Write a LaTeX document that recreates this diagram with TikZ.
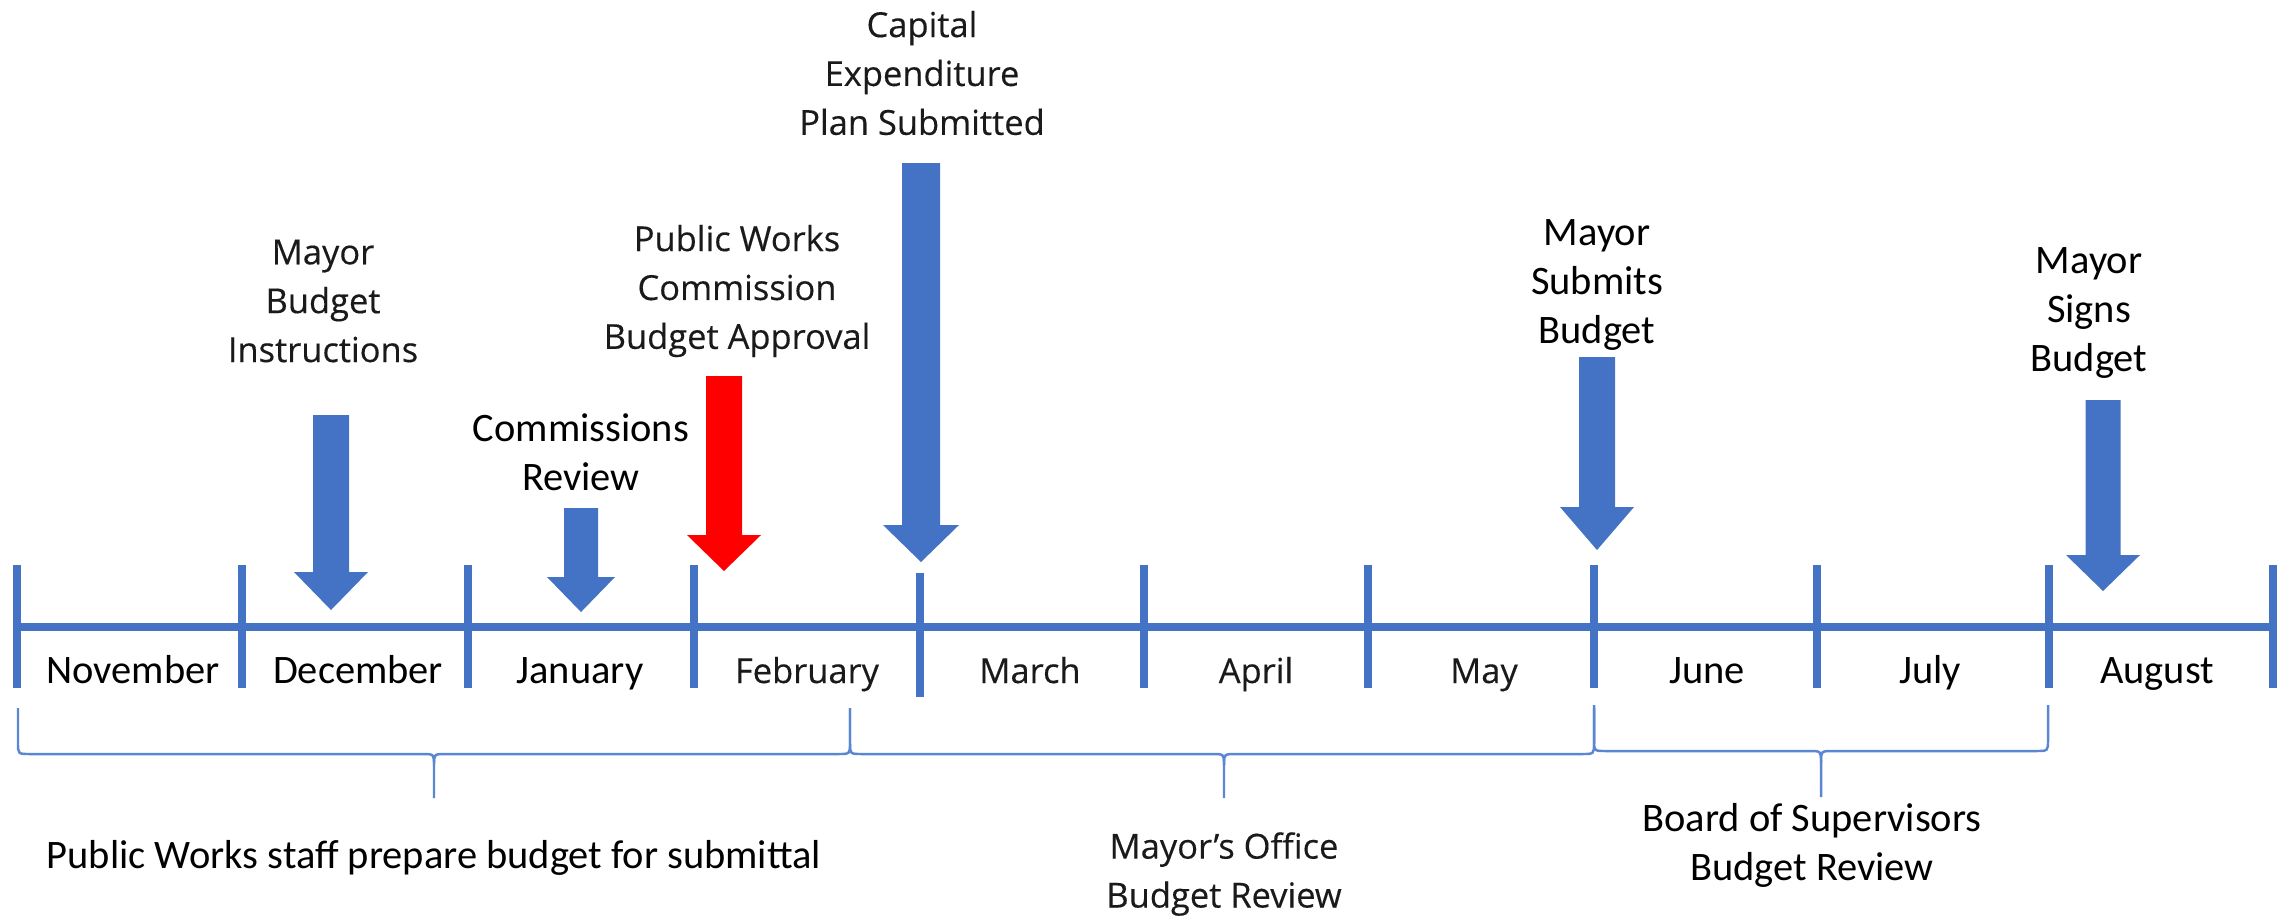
\documentclass[tikz,border=0pt]{standalone}
\usepackage{fontspec}
\setmainfont{Carlito}
\newfontfamily\widefont[FakeBold=0.3]{Open Sans}
\definecolor{tlblue}{HTML}{4472C4}
\definecolor{brblue}{HTML}{5B86D2}
\definecolor{wideink}{HTML}{1A1A1A}
\newcommand\blockarr[7]{%
  \fill[#7] (#1-#2,#3) -- (#1+#2,#3) -- (#1+#2,#5) -- (#1+#4,#5) -- (#1,#6)
    -- (#1-#4,#5) -- (#1-#2,#5) -- cycle;}
\newcommand\curlybrace[6]{%
  \draw[bracestyle] (#1,#4) -- (#1,#5-11) .. controls (#1,#5) .. (#1+12,#5)
    -- (#2-12,#5) .. controls (#2,#5) .. (#2,#5+11) -- (#2,#6);
  \draw[bracestyle] (#2,#5+11) .. controls (#2,#5) .. (#2+12,#5)
    -- (#3-12,#5) .. controls (#3,#5) .. (#3,#5-11) -- (#3,#4);}
\begin{document}
\begin{tikzpicture}[x=0.01cm,y=-0.01cm,
  timeline/.style={draw=tlblue, line width=2.3pt},
  mtick/.style={draw=tlblue, line width=2.3pt},
  bracestyle/.style={draw=brblue, line width=0.7pt},
  narrow/.style={font=\fontsize{11.5}{13.9}\selectfont, align=center, text=black, inner sep=0pt},
  wide/.style={font=\widefont\fontsize{9.8}{13.9}\selectfont, align=center, text=wideink, inner sep=0pt},
  bluearrow/.style={fill=tlblue},
  redarrow/.style={fill=red}]
\useasboundingbox (0,0) rectangle (2285,920);

% timeline
\coordinate (L) at (17,627);
\coordinate (R) at (2273,627);
\draw[timeline] (L) -- (R);
\foreach \x in {17,242,468,694,1144,1368,1594,1817,2049,2273}
  \draw[mtick] (\x,565) -- (\x,688);
\draw[mtick] (920,573) -- (920,697);

% month labels
\node[narrow, anchor=base] (nov) at (133,683) {November};
\node[narrow, anchor=base] (dec) at (358,683) {December};
\node[narrow, anchor=base] (jan) at (580,683) {January};
\node[wide, anchor=base] (feb) at (807,683) {February};
\node[wide, anchor=base] (mar) at (1030,683) {March};
\node[wide, anchor=base] (apr) at (1256,683) {April};
\node[wide, anchor=base] (may) at (1484,683) {May};
\node[narrow, anchor=base] (jun) at (1707,683) {June};
\node[narrow, anchor=base] (jul) at (1930,683) {July};
\node[narrow, anchor=base] (aug) at (2157,683) {August};

% arrows
\blockarr{331}{18}{415}{37}{572}{610}{bluearrow}
\blockarr{581}{17}{508}{34}{577}{612}{bluearrow}
\blockarr{724}{18}{376}{37}{535}{571}{redarrow}
\blockarr{921}{19}{163}{38}{525}{562}{bluearrow}
\blockarr{1597}{18}{357}{37}{507}{550}{bluearrow}
\blockarr{2103}{17.5}{400}{37}{555}{591}{bluearrow}

% event labels
\node[wide] (instr) at (323,301) {Mayor\\Budget\\Instructions};
\node[narrow] (comm) at (581,452) {Commissions\\Review};
\node[wide] (pwc) at (737,291) {Public Works\\Commission\\Budget Approval};
\node[wide] (cap) at (922,73) {Capital\\Expenditure\\Plan Submitted};
\node[narrow] (submit) at (1597,285) {Mayor\\Submits\\Budget};
\node[narrow] (signs) at (2089,313) {Mayor\\Signs\\Budget};

% braces
\curlybrace{18}{434}{850}{708}{754}{798}
\curlybrace{850}{1224}{1594}{708}{754}{798}
\curlybrace{1594}{1821}{2048}{705}{751}{797}

% phase labels
\node[narrow, anchor=base] (staff) at (434,868) {Public Works staff prepare budget for submittal};
\node[wide] (office) at (1224,874) {Mayor’s Office\\Budget Review};
\node[narrow] (board) at (1812,845) {Board of Supervisors\\Budget Review};
\end{tikzpicture}
\end{document}
